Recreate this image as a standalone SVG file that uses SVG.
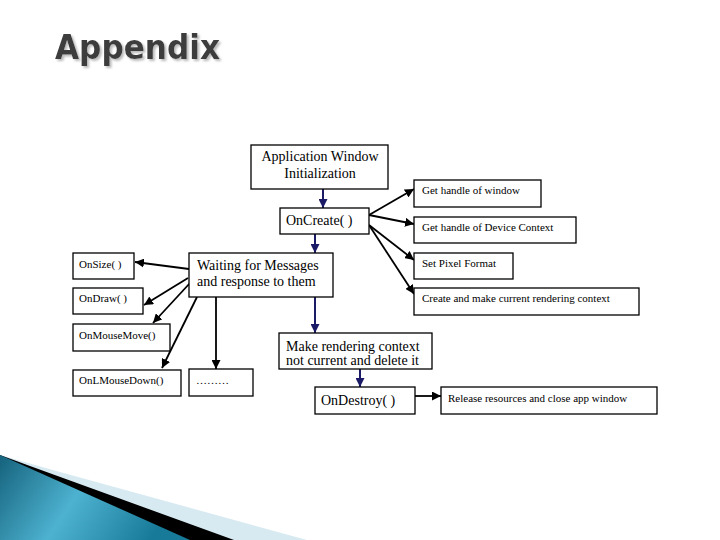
<svg xmlns="http://www.w3.org/2000/svg" width="720" height="540" viewBox="0 0 720 540">
<style>
.box{fill:#fff;stroke:#000;stroke-width:1.3}
.t{font-family:"Liberation Serif","Times New Roman",serif;fill:#000}
.s{font-size:11px}
.m{font-size:14px}
.bl{stroke:#000;stroke-width:1.8;fill:none;marker-end:url(#ab)}
.nv{stroke:#1a1a66;stroke-width:2;fill:none;marker-end:url(#an)}
</style>
<defs>
<marker id="ab" viewBox="0 0 10 10" refX="10" refY="5" markerWidth="5" markerHeight="5" orient="auto" markerUnits="strokeWidth"><path d="M0,0 L10,5 L0,10 z" fill="#000"/></marker>
<marker id="an" viewBox="0 0 10 10" refX="10" refY="5" markerWidth="4.5" markerHeight="4.5" orient="auto" markerUnits="strokeWidth"><path d="M0,0 L10,5 L0,10 z" fill="#1a1a66"/></marker>
<linearGradient id="teal" x1="0" y1="0" x2="1" y2="0.3">
<stop offset="0" stop-color="#15627c"/>
<stop offset="0.5" stop-color="#4db2d0"/>
<stop offset="1" stop-color="#177a98"/>
</linearGradient>
<filter id="sh" x="-5%" y="-5%" width="110%" height="120%"><feDropShadow dx="2" dy="2" stdDeviation="0.8" flood-color="#bbb"/></filter>
</defs>
<rect width="720" height="540" fill="#fff"/>
<text x="55" y="59" font-family="'DejaVu Sans',Verdana,sans-serif" font-weight="bold" font-size="34" fill="#3c3c3c" textLength="165" lengthAdjust="spacingAndGlyphs" filter="url(#sh)">Appendix</text>
<g id="swoosh">
<polygon points="0,455 60,472 307,540 0,540" fill="#d8eaf1"/>
<polygon points="0,455 30,466 234,540 0,540" fill="#000"/>
<polygon points="0,455 190,540 0,540" fill="url(#teal)"/>
</g>
<g id="connectors">
<line class="nv" x1="323" y1="189" x2="323" y2="208"/>
<line class="nv" x1="315" y1="234" x2="315" y2="253"/>
<line class="nv" x1="315" y1="297" x2="315" y2="333"/>
<line class="nv" x1="360" y1="369" x2="360" y2="387"/>
<line class="bl" x1="369" y1="215" x2="414" y2="189"/>
<line class="bl" x1="369" y1="215" x2="414" y2="224"/>
<line class="bl" x1="369" y1="225" x2="414" y2="260"/>
<line class="bl" x1="369" y1="225" x2="414" y2="294"/>
<line class="bl" x1="189" y1="269" x2="135" y2="262"/>
<line class="bl" x1="188" y1="278" x2="144" y2="305"/>
<line class="bl" x1="190" y1="283" x2="153" y2="323"/>
<line class="bl" x1="197" y1="297" x2="162" y2="368"/>
<line class="bl" x1="216" y1="297" x2="216" y2="369"/>
<line class="bl" x1="415" y1="396" x2="441" y2="396"/>
</g>
<g id="appwin"><rect class="box" x="251" y="145" width="137" height="44"/><text class="t m" x="320" y="161" text-anchor="middle">Application Window</text><text class="t m" x="320" y="178" text-anchor="middle">Initialization</text></g>
<g id="oncreate"><rect class="box" x="280" y="208" width="89" height="26"/><text class="t m" x="286" y="225">OnCreate( )</text></g>
<g id="gethwnd"><rect class="box" x="414" y="180" width="127" height="27"/><text class="t s" x="422" y="194">Get handle of window</text></g>
<g id="gethdc"><rect class="box" x="414" y="217" width="162" height="26"/><text class="t s" x="422" y="231">Get handle of Device Context</text></g>
<g id="setpf"><rect class="box" x="414" y="253" width="99" height="26"/><text class="t s" x="422" y="267">Set Pixel Format</text></g>
<g id="createrc"><rect class="box" x="414" y="288" width="225" height="27"/><text class="t s" x="422" y="302">Create and make current rendering context</text></g>
<g id="onsize"><rect class="box" x="73" y="253" width="61" height="26"/><text class="t s" x="79" y="268">OnSize( )</text></g>
<g id="ondraw"><rect class="box" x="73" y="288" width="70" height="26"/><text class="t s" x="79" y="302">OnDraw( )</text></g>
<g id="onmousemove"><rect class="box" x="73" y="324" width="97" height="27"/><text class="t s" x="79" y="339">OnMouseMove()</text></g>
<g id="onlmousedown"><rect class="box" x="73" y="370" width="108" height="26"/><text class="t s" x="79" y="384">OnLMouseDown()</text></g>
<g id="waiting"><rect class="box" x="189" y="253" width="144" height="44"/><text class="t m" x="197" y="270">Waiting for Messages</text><text class="t m" x="197" y="286">and response to them</text></g>
<g id="etc"><rect class="box" x="189" y="369" width="64" height="27"/><text class="t s" x="196" y="384">………</text></g>
<g id="makenc"><rect class="box" x="279" y="333" width="153" height="36"/><text class="t m" x="286" y="351">Make rendering context</text><text class="t m" x="286" y="365">not current and delete it</text></g>
<g id="ondestroy"><rect class="box" x="315" y="387" width="100" height="27"/><text class="t m" x="321" y="405">OnDestroy( )</text></g>
<g id="release"><rect class="box" x="441" y="387" width="216" height="27"/><text class="t s" x="448" y="402">Release resources and close app window</text></g>
</svg>
